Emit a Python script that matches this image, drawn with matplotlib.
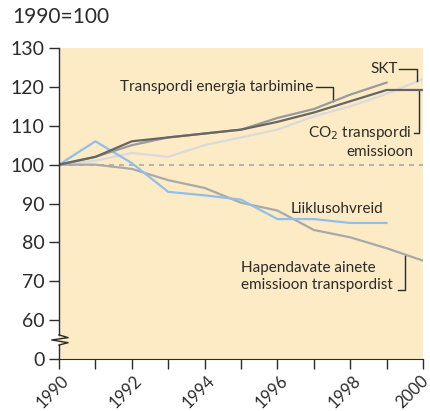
import matplotlib.pyplot as plt
import matplotlib.transforms as mtransforms

plt.rcParams['font.family'] = ['Lato', 'DejaVu Sans']

# andmed (1990=100)
years = [1990, 1991, 1992, 1993, 1994, 1995, 1996, 1997, 1998, 1999, 2000]
skt = [100, 101, 103, 102, 105, 107, 109, 112.4, 115, 118.2, 122]
co2 = [100, 102, 106, 107, 108, 109, 111, 113.4, 116.3, 119.2, 119.2]
energia = [100, 102, 105, 107, 108, 109, 112, 114.3, 118, 121.1]
ohvrid = [100, 106, 100.4, 93, 92.1, 91, 86, 86, 85, 85]
hapend = [100, 100, 98.9, 96, 94, 90.2, 88.2, 83.2, 81.3, 78.5, 75.3]

ytick_vals = [50, 60, 70, 80, 90, 100, 110, 120, 130]
ytick_labels = ['0', '60', '70', '80', '90', '100', '110', '120', '130']
xtick_vals = [1990, 1992, 1994, 1996, 1998, 2000]

bg = '#fdebc5'
ink = '#2b2b2b'

fig = plt.figure(figsize=(4.31, 4.11), dpi=100)
ax = fig.add_axes([0.1369, 0.1265, 0.8445, 0.7567])
ax.set_facecolor(bg)

ax.axhline(100, color='#aaaaaa', lw=1.2, ls=(0, (3, 3)), zorder=1)

ax.plot(years, skt, color='#dadada', lw=1.6, zorder=2)
ax.plot(years[:len(hapend)], hapend, color='#a9a9a9', lw=1.6, zorder=2)
ax.plot(years[:len(ohvrid)], ohvrid, color='#8fc0ea', lw=1.6, zorder=3)
ax.plot(years[:len(energia)], energia, color='#9a9a9a', lw=1.6, zorder=3)
ax.plot(years, co2, color='#666666', lw=1.6, zorder=4)

ax.set_xlim(1990, 2000)
ax.set_ylim(50, 130)

ax.set_yticks(ytick_vals)
ax.set_yticklabels(ytick_labels)
ax.set_xticks(xtick_vals)
ax.set_xticks(years, minor=True)
ax.set_xticklabels([str(y) for y in xtick_vals], rotation=45, ha='right',
                   rotation_mode='anchor')

ax.tick_params(axis='both', which='both', direction='out', length=7, width=1,
               color=ink, labelsize=14, labelcolor=ink)
ax.tick_params(axis='x', pad=0, labelsize=12)

# nihuta aastaarvud veidi paremale ja alla (viimane jääb pildi sisse)
labs = ax.get_xticklabels()
for i, lab in enumerate(labs):
    dx = -3 if i == len(labs) - 1 else 2
    shift = mtransforms.ScaledTranslation(dx / 100, -4 / 100, fig.dpi_scale_trans)
    lab.set_transform(lab.get_transform() + shift)

for s in ['top', 'right']:
    ax.spines[s].set_visible(False)
ax.spines['left'].set_visible(False)
ax.spines['bottom'].set_color(ink)

# vasak telg koos katkestusega
trans = mtransforms.blended_transform_factory(ax.transAxes, ax.transData)
ax.plot([0, 0], [50, 53.6], color=ink, lw=1, transform=trans, clip_on=False, zorder=5)
ax.plot([0, 0], [56.2, 130], color=ink, lw=1, transform=trans, clip_on=False, zorder=5)
zx = [0, 0.025, -0.02, 0.025, 0]
zy = [56.2, 55.5, 54.9, 54.2, 53.6]
ax.plot(zx, zy, color=ink, lw=1, transform=trans, clip_on=False, zorder=5)

fig.text(0.028, 0.958, '1990=100', fontsize=15, color=ink, va='center')

fs = 11
# SKT
ax.text(1999.3, 124.6, 'SKT', fontsize=fs, color=ink, ha='right', va='center')
ax.plot([1999.35, 1999.84, 1999.84], [124.6, 124.6, 121.6], color=ink, lw=1)
# energia
ax.text(1997.0, 120, 'Transpordi energia tarbimine', fontsize=fs, color=ink,
        ha='right', va='center')
ax.plot([1997.05, 1997.53, 1997.53], [120, 120, 116.4], color=ink, lw=1)
# CO2
ax.text(1999.68, 108.2, 'CO$_2$ transpordi', fontsize=fs, color=ink,
        ha='right', va='center')
ax.text(1999.73, 103.2, 'emissioon', fontsize=fs, color=ink, ha='right', va='center')
ax.plot([1999.74, 1999.89, 1999.89], [108.1, 108.1, 119.2], color=ink, lw=1)
# ohvrid
ax.text(1998.92, 88.7, 'Liiklusohvreid', fontsize=fs, color=ink, ha='right', va='center')
# hapendavad
ax.text(1995.0, 71.2, 'Hapendavate ainete\nemissioon transpordist', fontsize=fs,
        color=ink, ha='left', va='center', linespacing=1.2)
ax.plot([1999.3, 1999.5, 1999.5], [67.8, 67.8, 76.6], color=ink, lw=1)

fig.savefig('out.png', dpi=100)
